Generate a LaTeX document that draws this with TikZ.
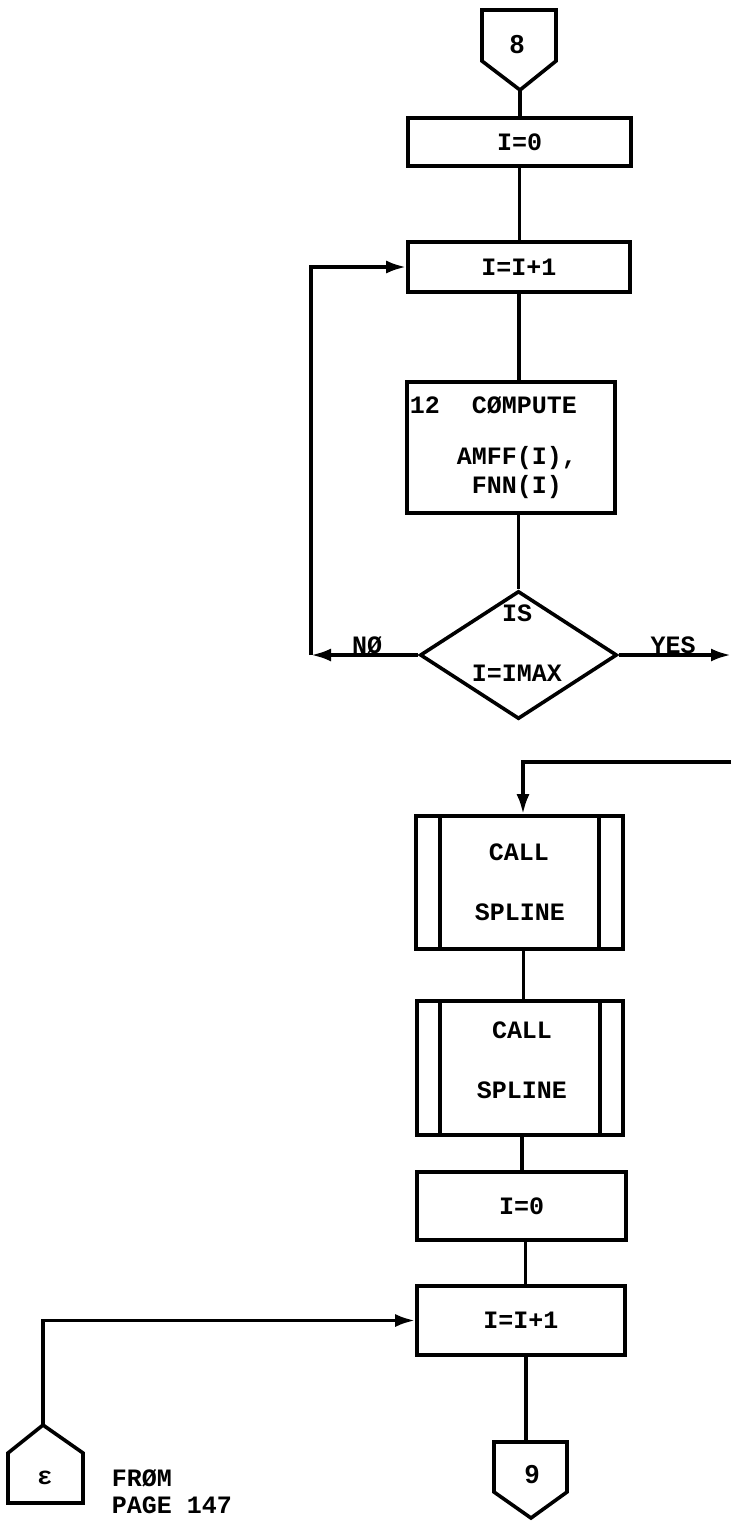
\documentclass[tikz,border=0pt]{standalone}
\usepackage{fontspec}
\setmonofont{Liberation Mono}
\newfontfamily\digitfont{Liberation Sans}
\usetikzlibrary{arrows.meta,shapes.geometric}
\begin{document}
\begin{tikzpicture}[x=0.5pt,y=-0.5pt,
  line width=1.8pt,
  txt/.style={font=\ttfamily\bfseries\fontsize{12.5}{14}\selectfont, inner sep=0},
  dig/.style={font=\digitfont\bfseries\fontsize{13}{15}\selectfont, inner sep=0},
  box/.style={draw, rectangle, inner sep=0, line width=1.8pt, font=\ttfamily\bfseries\fontsize{12.5}{14}\selectfont},
  arr/.style={-{Latex[length=10pt,width=6.5pt]}},
  pent/.style={draw, line width=1.8pt, line join=miter}
]
\useasboundingbox (0,0) rectangle (732,1522);

% off-page connector 8
\draw[pent] (482,10) -- (556,10) -- (556,61) -- (520,90) -- (482,61) -- cycle;
\coordinate (c8) at (520,90);
\node[dig] (l8) at (517,45) {8};

% boxes
\node[box, minimum width=111.5pt, minimum height=24pt] (b1) at (519.5,142) {I=0};
\node[box, minimum width=111pt, minimum height=25pt] (b2) at (519,267) {I=I+1};
\node[box, minimum width=104pt, minimum height=65.5pt] (comp) at (511,447.5) {};
\node[txt, anchor=west] (t12) at (408,405) {12};
\node[txt, anchor=west] (tcomp) at (470,405) {CØMPUTE};
\node[txt, anchor=west] (tamff) at (455,458) {AMFF(I),};
\node[txt, anchor=west] (tfnn) at (470,487) {FNN(I)};

\node[draw, diamond, inner sep=0, minimum width=98.5pt, minimum height=64pt] (dec) at (518.5,655) {};
\node[txt] (tis) at (517,613) {IS};
\node[txt] (timax) at (517,673) {I=IMAX};
\node[txt] (tno) at (367,645) {NØ};
\node[txt] (tyes) at (673,645) {YES};

% call spline boxes
\node[box, minimum width=103.5pt, minimum height=66.5pt] (cs1) at (519.5,882.5) {};
\draw ([xshift=13pt]cs1.north west) -- ([xshift=13pt]cs1.south west);
\draw ([xshift=-13pt]cs1.north east) -- ([xshift=-13pt]cs1.south east);
\node[txt] (cs1a) at (519,852) {CALL};
\node[txt] (cs1b) at (520,912) {SPLINE};

\node[box, minimum width=103pt, minimum height=67pt] (cs2) at (520,1068) {};
\draw ([xshift=12.5pt]cs2.north west) -- ([xshift=12.5pt]cs2.south west);
\draw ([xshift=-12.5pt]cs2.north east) -- ([xshift=-12.5pt]cs2.south east);
\node[txt] (cs2a) at (522,1030) {CALL};
\node[txt] (cs2b) at (522,1090) {SPLINE};

\node[box, minimum width=104.5pt, minimum height=34pt] (b3) at (521.5,1206) {I=0};
\node[box, minimum width=104pt, minimum height=34.5pt] (b4) at (521,1320.5) {I=I+1};

% off-page connector 9
\draw[pent] (494,1442) -- (567,1442) -- (567,1492) -- (531,1518) -- (494,1492) -- cycle;
\coordinate (c9) at (526,1442);
\node[dig] (l9) at (532,1475) {9};

% on-page connector epsilon
\draw[pent] (8,1503) -- (8,1453) -- (43,1425) -- (83,1453) -- (83,1503) -- cycle;
\coordinate (ce) at (43,1425);
\node[txt] (teps) at (45,1478) {ε};
\node[txt, anchor=west] (tfrom) at (110,1478) {FRØM};
\node[txt, anchor=west] (tpage) at (110,1505) {PAGE 147};

% connectors
\draw (c8) -- (c8 |- b1.north);
\draw (b1.south) -- (b1.south |- b2.north);
\draw (b2.south) -- (b2.south |- comp.north);
\draw (dec.north |- comp.south) -- (dec.north);
\coordinate (loopc) at (311,655);
\draw[arr] (dec.west) -- (loopc);
\draw[arr] (loopc) |- (b2.west);
\coordinate (yesend) at (731,655);
\draw[arr] (dec.east) -- (yesend);
\coordinate (ret) at (731,762);
\coordinate (retc) at (523,762);
\draw[arr] (ret) -- (retc) -- (retc |- cs1.north);
\draw ([xshift=2pt]cs1.south) -- ([xshift=2pt]cs1.south |- cs2.north);
\draw ([xshift=1pt]cs2.south) -- ([xshift=1pt]cs2.south |- b3.north);
\draw ([xshift=2pt]b3.south) -- ([xshift=2pt]b3.south |- b4.north);
\draw (c9 |- b4.south) -- (c9);
\coordinate (ecorner) at (43,1320.5);
\draw[arr] (ce) -- (ecorner) -- (b4.west);
\end{tikzpicture}
\end{document}
